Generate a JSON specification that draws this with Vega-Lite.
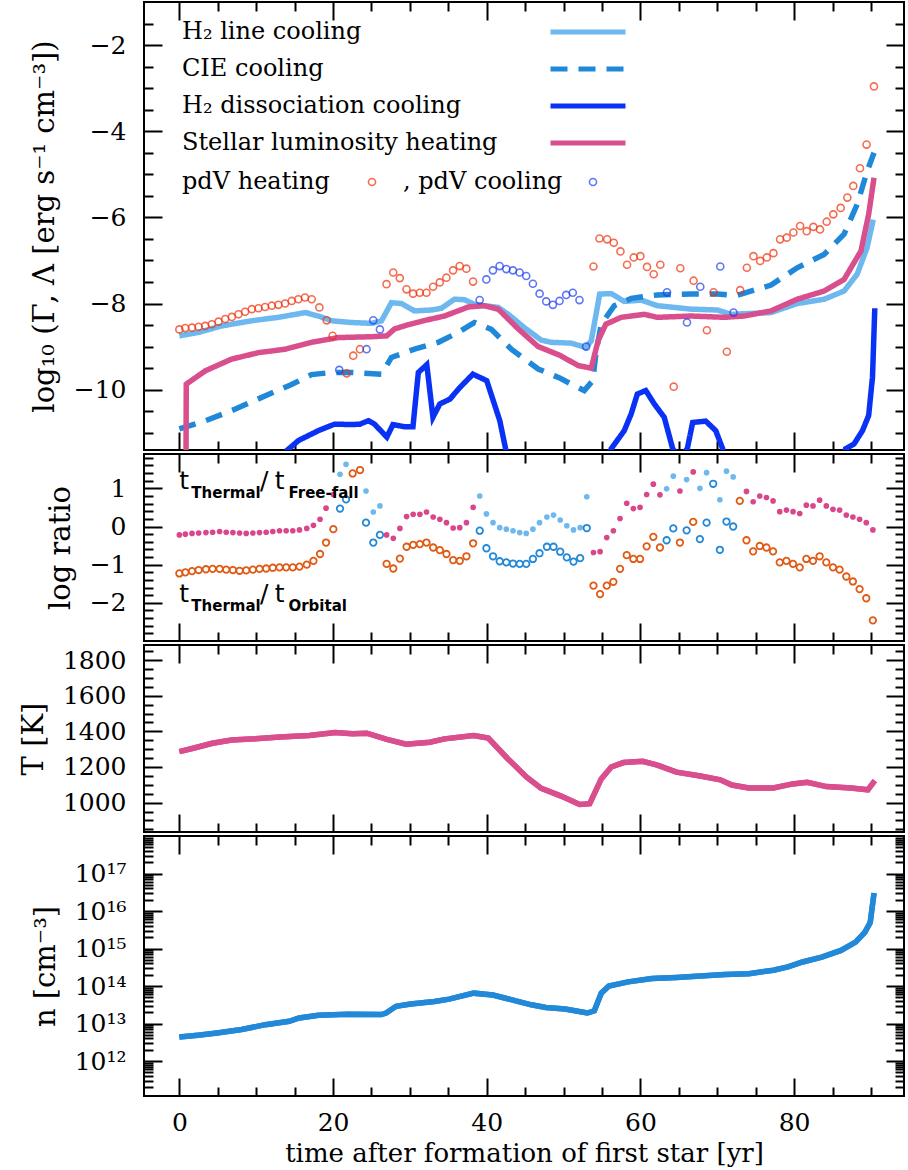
{
  "$schema": "https://vega.github.io/schema/vega-lite/v6.json",
  "padding": {"left": 18, "top": 0, "right": 2, "bottom": 0},
  "spacing": 0,
  "resolve": {"scale": {"color": "independent", "stroke": "independent", "strokeDash": "independent"}},
  "datasets": {
    "p1lines": [
      {"series":"H₂ line cooling","t":0,"v":-8.75},{"series":"H₂ line cooling","t":2.5,"v":-8.67},{"series":"H₂ line cooling","t":5.5,"v":-8.52},{"series":"H₂ line cooling","t":9.4,"v":-8.40},{"series":"H₂ line cooling","t":12.9,"v":-8.32},{"series":"H₂ line cooling","t":16.4,"v":-8.21},{"series":"H₂ line cooling","t":18.1,"v":-8.29},{"series":"H₂ line cooling","t":19.8,"v":-8.40},{"series":"H₂ line cooling","t":22.4,"v":-8.44},{"series":"H₂ line cooling","t":25.0,"v":-8.46},{"series":"H₂ line cooling","t":26.3,"v":-8.40},{"series":"H₂ line cooling","t":27.6,"v":-7.98},{"series":"H₂ line cooling","t":28.9,"v":-8.00},{"series":"H₂ line cooling","t":30.6,"v":-8.17},{"series":"H₂ line cooling","t":32.8,"v":-8.15},{"series":"H₂ line cooling","t":34.1,"v":-8.11},{"series":"H₂ line cooling","t":35.8,"v":-7.90},{"series":"H₂ line cooling","t":37.1,"v":-7.91},{"series":"H₂ line cooling","t":38.4,"v":-8.02},{"series":"H₂ line cooling","t":41.5,"v":-8.09},{"series":"H₂ line cooling","t":42.8,"v":-8.25},{"series":"H₂ line cooling","t":44.9,"v":-8.56},{"series":"H₂ line cooling","t":47.1,"v":-8.85},{"series":"H₂ line cooling","t":48.4,"v":-8.90},{"series":"H₂ line cooling","t":51.0,"v":-8.92},{"series":"H₂ line cooling","t":52.9,"v":-9.02},{"series":"H₂ line cooling","t":53.6,"v":-8.87},{"series":"H₂ line cooling","t":54.7,"v":-7.78},{"series":"H₂ line cooling","t":56.2,"v":-7.77},{"series":"H₂ line cooling","t":57.9,"v":-7.95},{"series":"H₂ line cooling","t":60.1,"v":-7.92},{"series":"H₂ line cooling","t":62.2,"v":-8.05},{"series":"H₂ line cooling","t":66.6,"v":-8.13},{"series":"H₂ line cooling","t":70.0,"v":-8.15},{"series":"H₂ line cooling","t":71.8,"v":-8.25},{"series":"H₂ line cooling","t":77.0,"v":-8.21},{"series":"H₂ line cooling","t":80.4,"v":-8.00},{"series":"H₂ line cooling","t":83.9,"v":-7.90},{"series":"H₂ line cooling","t":86.5,"v":-7.71},{"series":"H₂ line cooling","t":88.2,"v":-7.32},{"series":"H₂ line cooling","t":89.5,"v":-6.70},{"series":"H₂ line cooling","t":90.3,"v":-6.05},
      {"series":"CIE cooling","t":0,"v":-10.91},{"series":"CIE cooling","t":3.4,"v":-10.72},{"series":"CIE cooling","t":7.3,"v":-10.45},{"series":"CIE cooling","t":11.2,"v":-10.14},{"series":"CIE cooling","t":14.6,"v":-9.88},{"series":"CIE cooling","t":17.2,"v":-9.65},{"series":"CIE cooling","t":19.8,"v":-9.60},{"series":"CIE cooling","t":22.4,"v":-9.60},{"series":"CIE cooling","t":26.3,"v":-9.64},{"series":"CIE cooling","t":27.6,"v":-9.25},{"series":"CIE cooling","t":30.6,"v":-9.06},{"series":"CIE cooling","t":33.7,"v":-8.90},{"series":"CIE cooling","t":36.3,"v":-8.67},{"series":"CIE cooling","t":38.4,"v":-8.44},{"series":"CIE cooling","t":40.6,"v":-8.60},{"series":"CIE cooling","t":43.2,"v":-9.06},{"series":"CIE cooling","t":46.7,"v":-9.52},{"series":"CIE cooling","t":49.5,"v":-9.73},{"series":"CIE cooling","t":51.0,"v":-9.87},{"series":"CIE cooling","t":52.7,"v":-10.02},{"series":"CIE cooling","t":53.8,"v":-9.79},{"series":"CIE cooling","t":54.2,"v":-9.17},{"series":"CIE cooling","t":54.9,"v":-8.48},{"series":"CIE cooling","t":56.6,"v":-8.05},{"series":"CIE cooling","t":58.8,"v":-7.88},{"series":"CIE cooling","t":62.2,"v":-7.80},{"series":"CIE cooling","t":66.6,"v":-7.78},{"series":"CIE cooling","t":70.0,"v":-7.78},{"series":"CIE cooling","t":72.6,"v":-7.81},{"series":"CIE cooling","t":77.0,"v":-7.57},{"series":"CIE cooling","t":80.4,"v":-7.17},{"series":"CIE cooling","t":83.9,"v":-6.86},{"series":"CIE cooling","t":86.5,"v":-6.39},{"series":"CIE cooling","t":88.2,"v":-5.70},{"series":"CIE cooling","t":89.5,"v":-4.93},{"series":"CIE cooling","t":90.4,"v":-4.50},
      {"series":"H₂ dissociation cooling","t":13.0,"v":-12.0},{"series":"H₂ dissociation cooling","t":14.0,"v":-11.41},{"series":"H₂ dissociation cooling","t":15.5,"v":-11.18},{"series":"H₂ dissociation cooling","t":18.1,"v":-10.95},{"series":"H₂ dissociation cooling","t":20.2,"v":-10.80},{"series":"H₂ dissociation cooling","t":22.4,"v":-10.81},{"series":"H₂ dissociation cooling","t":23.5,"v":-10.80},{"series":"H₂ dissociation cooling","t":24.6,"v":-10.72},{"series":"H₂ dissociation cooling","t":25.4,"v":-10.80},{"series":"H₂ dissociation cooling","t":27.0,"v":-11.10},{"series":"H₂ dissociation cooling","t":27.8,"v":-10.81},{"series":"H₂ dissociation cooling","t":29.3,"v":-10.86},{"series":"H₂ dissociation cooling","t":30.4,"v":-10.86},{"series":"H₂ dissociation cooling","t":31.1,"v":-9.60},{"series":"H₂ dissociation cooling","t":32.2,"v":-9.42},{"series":"H₂ dissociation cooling","t":33.0,"v":-10.64},{"series":"H₂ dissociation cooling","t":33.9,"v":-10.33},{"series":"H₂ dissociation cooling","t":35.2,"v":-10.22},{"series":"H₂ dissociation cooling","t":36.5,"v":-9.95},{"series":"H₂ dissociation cooling","t":38.2,"v":-9.64},{"series":"H₂ dissociation cooling","t":40.0,"v":-9.79},{"series":"H₂ dissociation cooling","t":41.7,"v":-10.72},{"series":"H₂ dissociation cooling","t":42.5,"v":-11.41},{"series":"H₂ dissociation cooling","t":43.3,"v":-12.2},{"series":"H₂ dissociation cooling","t":55.3,"v":-12.2},{"series":"H₂ dissociation cooling","t":56.2,"v":-11.37},{"series":"H₂ dissociation cooling","t":57.9,"v":-10.95},{"series":"H₂ dissociation cooling","t":58.8,"v":-10.56},{"series":"H₂ dissociation cooling","t":59.6,"v":-10.10},{"series":"H₂ dissociation cooling","t":60.7,"v":-10.02},{"series":"H₂ dissociation cooling","t":61.8,"v":-10.33},{"series":"H₂ dissociation cooling","t":63.1,"v":-10.64},{"series":"H₂ dissociation cooling","t":64.2,"v":-11.37},{"series":"H₂ dissociation cooling","t":65.1,"v":-11.6},{"series":"H₂ dissociation cooling","t":66.1,"v":-11.37},{"series":"H₂ dissociation cooling","t":66.8,"v":-10.76},{"series":"H₂ dissociation cooling","t":68.5,"v":-10.73},{"series":"H₂ dissociation cooling","t":69.8,"v":-10.95},{"series":"H₂ dissociation cooling","t":70.7,"v":-11.37},{"series":"H₂ dissociation cooling","t":71.5,"v":-12.2},{"series":"H₂ dissociation cooling","t":85.8,"v":-12.2},{"series":"H₂ dissociation cooling","t":86.7,"v":-11.37},{"series":"H₂ dissociation cooling","t":87.8,"v":-11.26},{"series":"H₂ dissociation cooling","t":88.9,"v":-10.95},{"series":"H₂ dissociation cooling","t":89.7,"v":-10.60},{"series":"H₂ dissociation cooling","t":90.2,"v":-9.71},{"series":"H₂ dissociation cooling","t":90.5,"v":-8.11},
      {"series":"Stellar luminosity heating","t":0.85,"v":-12.5},{"series":"Stellar luminosity heating","t":0.9,"v":-9.87},{"series":"Stellar luminosity heating","t":3.4,"v":-9.56},{"series":"Stellar luminosity heating","t":6.8,"v":-9.29},{"series":"Stellar luminosity heating","t":10.3,"v":-9.14},{"series":"Stellar luminosity heating","t":13.8,"v":-9.06},{"series":"Stellar luminosity heating","t":17.2,"v":-8.90},{"series":"Stellar luminosity heating","t":20.7,"v":-8.79},{"series":"Stellar luminosity heating","t":25.0,"v":-8.77},{"series":"Stellar luminosity heating","t":27.0,"v":-8.75},{"series":"Stellar luminosity heating","t":28.0,"v":-8.59},{"series":"Stellar luminosity heating","t":29.8,"v":-8.49},{"series":"Stellar luminosity heating","t":32.0,"v":-8.39},{"series":"Stellar luminosity heating","t":34.5,"v":-8.29},{"series":"Stellar luminosity heating","t":37.6,"v":-8.08},{"series":"Stellar luminosity heating","t":39.7,"v":-8.05},{"series":"Stellar luminosity heating","t":41.5,"v":-8.13},{"series":"Stellar luminosity heating","t":44.1,"v":-8.59},{"series":"Stellar luminosity heating","t":46.7,"v":-9.00},{"series":"Stellar luminosity heating","t":49.5,"v":-9.20},{"series":"Stellar luminosity heating","t":51.9,"v":-9.44},{"series":"Stellar luminosity heating","t":53.6,"v":-9.50},{"series":"Stellar luminosity heating","t":54.5,"v":-8.86},{"series":"Stellar luminosity heating","t":55.5,"v":-8.48},{"series":"Stellar luminosity heating","t":57.5,"v":-8.32},{"series":"Stellar luminosity heating","t":60.5,"v":-8.25},{"series":"Stellar luminosity heating","t":62.2,"v":-8.32},{"series":"Stellar luminosity heating","t":66.6,"v":-8.29},{"series":"Stellar luminosity heating","t":70.9,"v":-8.32},{"series":"Stellar luminosity heating","t":73.5,"v":-8.29},{"series":"Stellar luminosity heating","t":77.0,"v":-8.17},{"series":"Stellar luminosity heating","t":80.4,"v":-7.90},{"series":"Stellar luminosity heating","t":83.9,"v":-7.71},{"series":"Stellar luminosity heating","t":86.5,"v":-7.44},{"series":"Stellar luminosity heating","t":88.7,"v":-6.78},{"series":"Stellar luminosity heating","t":89.7,"v":-5.93},{"series":"Stellar luminosity heating","t":90.4,"v":-5.08}
    ],
    "p1pdv": [
      {"series":"pdV heating","t":0.00,"v":-8.60},{"series":"pdV heating","t":0.77,"v":-8.57},{"series":"pdV heating","t":1.64,"v":-8.56},{"series":"pdV heating","t":2.50,"v":-8.54},{"series":"pdV heating","t":3.37,"v":-8.52},{"series":"pdV heating","t":4.23,"v":-8.48},{"series":"pdV heating","t":5.10,"v":-8.42},{"series":"pdV heating","t":5.97,"v":-8.36},{"series":"pdV heating","t":6.83,"v":-8.31},{"series":"pdV heating","t":7.70,"v":-8.25},{"series":"pdV heating","t":8.56,"v":-8.19},{"series":"pdV heating","t":9.43,"v":-8.13},{"series":"pdV heating","t":10.29,"v":-8.11},{"series":"pdV heating","t":11.16,"v":-8.08},{"series":"pdV heating","t":12.03,"v":-8.05},{"series":"pdV heating","t":12.89,"v":-8.03},{"series":"pdV heating","t":13.76,"v":-8.00},{"series":"pdV heating","t":14.62,"v":-7.94},{"series":"pdV heating","t":15.49,"v":-7.90},{"series":"pdV heating","t":16.35,"v":-7.86},{"series":"pdV heating","t":17.22,"v":-7.90},{"series":"pdV heating","t":18.22,"v":-8.09},{"series":"pdV heating","t":19.17,"v":-8.39},{"series":"pdV heating","t":19.95,"v":-8.75},{"series":"pdV cooling","t":20.81,"v":-9.54},{"series":"pdV heating","t":21.77,"v":-9.62},{"series":"pdV heating","t":22.63,"v":-9.21},{"series":"pdV heating","t":23.50,"v":-9.06},{"series":"pdV cooling","t":24.36,"v":-9.06},{"series":"pdV cooling","t":25.23,"v":-8.39},{"series":"pdV cooling","t":26.10,"v":-8.60},{"series":"pdV heating","t":26.96,"v":-7.55},{"series":"pdV heating","t":27.83,"v":-7.28},{"series":"pdV heating","t":28.69,"v":-7.41},{"series":"pdV heating","t":29.56,"v":-7.67},{"series":"pdV heating","t":30.42,"v":-7.77},{"series":"pdV heating","t":31.29,"v":-7.75},{"series":"pdV heating","t":32.16,"v":-7.75},{"series":"pdV heating","t":33.02,"v":-7.61},{"series":"pdV heating","t":33.89,"v":-7.51},{"series":"pdV heating","t":34.75,"v":-7.40},{"series":"pdV heating","t":35.62,"v":-7.23},{"series":"pdV heating","t":36.48,"v":-7.13},{"series":"pdV heating","t":37.35,"v":-7.19},{"series":"pdV heating","t":38.22,"v":-7.49},{"series":"pdV cooling","t":39.08,"v":-7.92},{"series":"pdV cooling","t":39.95,"v":-7.44},{"series":"pdV cooling","t":40.81,"v":-7.23},{"series":"pdV cooling","t":41.68,"v":-7.13},{"series":"pdV cooling","t":42.55,"v":-7.20},{"series":"pdV cooling","t":43.41,"v":-7.23},{"series":"pdV cooling","t":44.28,"v":-7.28},{"series":"pdV cooling","t":45.14,"v":-7.36},{"series":"pdV cooling","t":46.01,"v":-7.54},{"series":"pdV cooling","t":46.88,"v":-7.77},{"series":"pdV cooling","t":47.74,"v":-7.95},{"series":"pdV cooling","t":48.61,"v":-8.03},{"series":"pdV cooling","t":49.47,"v":-7.94},{"series":"pdV cooling","t":50.34,"v":-7.80},{"series":"pdV cooling","t":51.20,"v":-7.75},{"series":"pdV cooling","t":52.07,"v":-7.92},{"series":"pdV cooling","t":52.94,"v":-9.00},{"series":"pdV heating","t":53.89,"v":-7.14},{"series":"pdV heating","t":54.67,"v":-6.49},{"series":"pdV heating","t":55.67,"v":-6.51},{"series":"pdV heating","t":56.53,"v":-6.59},{"series":"pdV heating","t":57.40,"v":-6.79},{"series":"pdV heating","t":58.26,"v":-7.10},{"series":"pdV heating","t":59.13,"v":-6.93},{"series":"pdV heating","t":59.99,"v":-6.90},{"series":"pdV heating","t":60.86,"v":-7.15},{"series":"pdV heating","t":61.73,"v":-7.32},{"series":"pdV heating","t":62.59,"v":-7.10},{"series":"pdV cooling","t":63.46,"v":-7.74},{"series":"pdV heating","t":64.33,"v":-9.93},{"series":"pdV heating","t":65.19,"v":-7.18},{"series":"pdV cooling","t":66.06,"v":-8.44},{"series":"pdV heating","t":66.92,"v":-7.47},{"series":"pdV cooling","t":67.79,"v":-7.61},{"series":"pdV heating","t":68.65,"v":-8.62},{"series":"pdV heating","t":69.52,"v":-7.74},{"series":"pdV cooling","t":70.39,"v":-7.14},{"series":"pdV heating","t":71.25,"v":-9.12},{"series":"pdV cooling","t":72.12,"v":-8.21},{"series":"pdV heating","t":72.98,"v":-7.69},{"series":"pdV heating","t":73.85,"v":-7.17},{"series":"pdV heating","t":74.71,"v":-6.90},{"series":"pdV heating","t":75.58,"v":-7.01},{"series":"pdV heating","t":76.45,"v":-6.93},{"series":"pdV heating","t":77.31,"v":-6.83},{"series":"pdV heating","t":78.18,"v":-6.51},{"series":"pdV heating","t":79.04,"v":-6.47},{"series":"pdV heating","t":79.91,"v":-6.35},{"series":"pdV heating","t":80.78,"v":-6.20},{"series":"pdV heating","t":81.64,"v":-6.32},{"series":"pdV heating","t":82.51,"v":-6.22},{"series":"pdV heating","t":83.37,"v":-6.28},{"series":"pdV heating","t":84.24,"v":-6.10},{"series":"pdV heating","t":85.10,"v":-5.93},{"series":"pdV heating","t":86.06,"v":-5.78},{"series":"pdV heating","t":86.93,"v":-5.54},{"series":"pdV heating","t":87.70,"v":-5.27},{"series":"pdV heating","t":88.57,"v":-4.86},{"series":"pdV heating","t":89.43,"v":-4.31},{"series":"pdV heating","t":90.39,"v":-2.96}
    ],
    "p2pts": [
      {"r":"ff","g":"h","t":0.00,"v":-0.22},{"r":"ff","g":"h","t":0.78,"v":-0.20},{"r":"ff","g":"h","t":1.65,"v":-0.18},{"r":"ff","g":"h","t":2.51,"v":-0.17},{"r":"ff","g":"h","t":3.46,"v":-0.16},{"r":"ff","g":"h","t":4.33,"v":-0.15},{"r":"ff","g":"h","t":5.24,"v":-0.13},{"r":"ff","g":"h","t":6.10,"v":-0.15},{"r":"ff","g":"h","t":6.97,"v":-0.16},{"r":"ff","g":"h","t":7.84,"v":-0.17},{"r":"ff","g":"h","t":8.70,"v":-0.18},{"r":"ff","g":"h","t":9.57,"v":-0.17},{"r":"ff","g":"h","t":10.43,"v":-0.16},{"r":"ff","g":"h","t":11.30,"v":-0.15},{"r":"ff","g":"h","t":12.16,"v":-0.13},{"r":"ff","g":"h","t":13.03,"v":-0.11},{"r":"ff","g":"h","t":13.90,"v":-0.11},{"r":"ff","g":"h","t":14.76,"v":-0.11},{"r":"ff","g":"h","t":15.63,"v":-0.09},{"r":"ff","g":"h","t":16.58,"v":-0.05},{"r":"ff","g":"h","t":17.45,"v":0.03},{"r":"ff","g":"h","t":18.31,"v":0.19},{"r":"ff","g":"h","t":19.09,"v":0.48},{"r":"ff","g":"h","t":20.04,"v":0.84},{"r":"ff","g":"c","t":20.91,"v":1.37},{"r":"ff","g":"c","t":21.69,"v":1.63},{"r":"ff","g":"c","t":24.29,"v":0.93},{"r":"ff","g":"c","t":25.24,"v":0.38},{"r":"ff","g":"c","t":26.10,"v":0.54},{"r":"ff","g":"h","t":26.97,"v":-0.22},{"r":"ff","g":"h","t":27.84,"v":-0.31},{"r":"ff","g":"h","t":28.70,"v":-0.05},{"r":"ff","g":"h","t":29.57,"v":0.26},{"r":"ff","g":"h","t":30.43,"v":0.32},{"r":"ff","g":"h","t":31.30,"v":0.32},{"r":"ff","g":"h","t":32.16,"v":0.38},{"r":"ff","g":"h","t":33.03,"v":0.25},{"r":"ff","g":"h","t":33.90,"v":0.19},{"r":"ff","g":"h","t":34.76,"v":0.10},{"r":"ff","g":"h","t":35.63,"v":-0.04},{"r":"ff","g":"h","t":36.49,"v":-0.03},{"r":"ff","g":"h","t":37.36,"v":0.10},{"r":"ff","g":"h","t":38.23,"v":0.50},{"r":"ff","g":"c","t":39.09,"v":0.80},{"r":"ff","g":"c","t":39.96,"v":0.33},{"r":"ff","g":"c","t":40.82,"v":0.10},{"r":"ff","g":"c","t":41.69,"v":-0.03},{"r":"ff","g":"c","t":42.55,"v":-0.07},{"r":"ff","g":"c","t":43.42,"v":-0.11},{"r":"ff","g":"c","t":44.29,"v":-0.16},{"r":"ff","g":"c","t":45.14,"v":-0.18},{"r":"ff","g":"c","t":46.01,"v":-0.07},{"r":"ff","g":"c","t":46.87,"v":0.10},{"r":"ff","g":"c","t":47.83,"v":0.25},{"r":"ff","g":"c","t":48.69,"v":0.30},{"r":"ff","g":"c","t":49.56,"v":0.17},{"r":"ff","g":"c","t":50.42,"v":0.02},{"r":"ff","g":"c","t":51.29,"v":-0.09},{"r":"ff","g":"c","t":52.16,"v":-0.03},{"r":"ff","g":"c","t":53.02,"v":0.78},{"r":"ff","g":"h","t":53.89,"v":-0.68},{"r":"ff","g":"h","t":54.75,"v":-0.66},{"r":"ff","g":"h","t":55.62,"v":-0.29},{"r":"ff","g":"h","t":56.48,"v":-0.11},{"r":"ff","g":"h","t":57.35,"v":0.21},{"r":"ff","g":"h","t":58.22,"v":0.61},{"r":"ff","g":"h","t":59.08,"v":0.47},{"r":"ff","g":"h","t":59.95,"v":0.50},{"r":"ff","g":"h","t":60.81,"v":0.84},{"r":"ff","g":"h","t":61.68,"v":1.11},{"r":"ff","g":"h","t":62.54,"v":0.83},{"r":"ff","g":"c","t":63.41,"v":0.99},{"r":"ff","g":"c","t":64.28,"v":1.32},{"r":"ff","g":"h","t":65.14,"v":0.93},{"r":"ff","g":"c","t":66.01,"v":1.23},{"r":"ff","g":"h","t":66.87,"v":1.43},{"r":"ff","g":"c","t":67.74,"v":1.00},{"r":"ff","g":"c","t":68.61,"v":1.41},{"r":"ff","g":"c","t":70.34,"v":0.70},{"r":"ff","g":"c","t":71.20,"v":1.45},{"r":"ff","g":"c","t":72.07,"v":1.30},{"r":"ff","g":"h","t":73.80,"v":0.92},{"r":"ff","g":"h","t":74.67,"v":0.65},{"r":"ff","g":"h","t":75.53,"v":0.80},{"r":"ff","g":"h","t":76.40,"v":0.76},{"r":"ff","g":"h","t":77.26,"v":0.67},{"r":"ff","g":"h","t":78.13,"v":0.39},{"r":"ff","g":"h","t":79.00,"v":0.43},{"r":"ff","g":"h","t":79.86,"v":0.39},{"r":"ff","g":"h","t":80.73,"v":0.34},{"r":"ff","g":"h","t":81.59,"v":0.56},{"r":"ff","g":"h","t":82.46,"v":0.54},{"r":"ff","g":"h","t":83.32,"v":0.69},{"r":"ff","g":"h","t":84.19,"v":0.54},{"r":"ff","g":"h","t":85.06,"v":0.45},{"r":"ff","g":"h","t":85.92,"v":0.43},{"r":"ff","g":"h","t":86.79,"v":0.30},{"r":"ff","g":"h","t":87.65,"v":0.25},{"r":"ff","g":"h","t":88.52,"v":0.19},{"r":"ff","g":"h","t":89.39,"v":0.10},{"r":"ff","g":"h","t":90.25,"v":-0.09},
      {"r":"orb","g":"h","t":0.00,"v":-1.23},{"r":"orb","g":"h","t":0.78,"v":-1.20},{"r":"orb","g":"h","t":1.65,"v":-1.17},{"r":"orb","g":"h","t":2.51,"v":-1.14},{"r":"orb","g":"h","t":3.46,"v":-1.12},{"r":"orb","g":"h","t":4.33,"v":-1.11},{"r":"orb","g":"h","t":5.24,"v":-1.11},{"r":"orb","g":"h","t":6.10,"v":-1.13},{"r":"orb","g":"h","t":6.97,"v":-1.14},{"r":"orb","g":"h","t":7.84,"v":-1.16},{"r":"orb","g":"h","t":8.70,"v":-1.15},{"r":"orb","g":"h","t":9.57,"v":-1.13},{"r":"orb","g":"h","t":10.43,"v":-1.11},{"r":"orb","g":"h","t":11.30,"v":-1.10},{"r":"orb","g":"h","t":12.16,"v":-1.08},{"r":"orb","g":"h","t":13.03,"v":-1.07},{"r":"orb","g":"h","t":13.90,"v":-1.07},{"r":"orb","g":"h","t":14.76,"v":-1.07},{"r":"orb","g":"h","t":15.63,"v":-1.05},{"r":"orb","g":"h","t":16.58,"v":-1.00},{"r":"orb","g":"h","t":17.45,"v":-0.90},{"r":"orb","g":"h","t":18.31,"v":-0.72},{"r":"orb","g":"h","t":19.09,"v":-0.42},{"r":"orb","g":"h","t":20.04,"v":-0.07},{"r":"orb","g":"c","t":20.91,"v":0.47},{"r":"orb","g":"c","t":21.69,"v":0.71},{"r":"orb","g":"h","t":22.55,"v":1.39},{"r":"orb","g":"h","t":23.51,"v":1.48},{"r":"orb","g":"c","t":24.29,"v":0.10},{"r":"orb","g":"c","t":25.24,"v":-0.42},{"r":"orb","g":"c","t":26.10,"v":-0.22},{"r":"orb","g":"h","t":26.97,"v":-0.98},{"r":"orb","g":"h","t":27.84,"v":-1.10},{"r":"orb","g":"h","t":28.70,"v":-0.84},{"r":"orb","g":"h","t":29.57,"v":-0.53},{"r":"orb","g":"h","t":30.43,"v":-0.48},{"r":"orb","g":"h","t":31.30,"v":-0.46},{"r":"orb","g":"h","t":32.16,"v":-0.42},{"r":"orb","g":"h","t":33.03,"v":-0.55},{"r":"orb","g":"h","t":33.90,"v":-0.62},{"r":"orb","g":"h","t":34.76,"v":-0.72},{"r":"orb","g":"h","t":35.63,"v":-0.88},{"r":"orb","g":"h","t":36.49,"v":-0.90},{"r":"orb","g":"h","t":37.36,"v":-0.78},{"r":"orb","g":"h","t":38.23,"v":-0.44},{"r":"orb","g":"c","t":39.09,"v":-0.11},{"r":"orb","g":"c","t":39.96,"v":-0.57},{"r":"orb","g":"c","t":40.82,"v":-0.78},{"r":"orb","g":"c","t":41.69,"v":-0.91},{"r":"orb","g":"c","t":42.55,"v":-0.94},{"r":"orb","g":"c","t":43.42,"v":-0.97},{"r":"orb","g":"c","t":44.29,"v":-0.98},{"r":"orb","g":"c","t":45.14,"v":-0.98},{"r":"orb","g":"c","t":46.01,"v":-0.85},{"r":"orb","g":"c","t":46.87,"v":-0.70},{"r":"orb","g":"c","t":47.83,"v":-0.53},{"r":"orb","g":"c","t":48.69,"v":-0.53},{"r":"orb","g":"c","t":49.56,"v":-0.66},{"r":"orb","g":"c","t":50.42,"v":-0.81},{"r":"orb","g":"c","t":51.29,"v":-0.92},{"r":"orb","g":"c","t":52.16,"v":-0.83},{"r":"orb","g":"c","t":53.02,"v":-0.04},{"r":"orb","g":"h","t":53.89,"v":-1.55},{"r":"orb","g":"h","t":54.75,"v":-1.77},{"r":"orb","g":"h","t":55.62,"v":-1.55},{"r":"orb","g":"h","t":56.48,"v":-1.45},{"r":"orb","g":"h","t":57.35,"v":-1.11},{"r":"orb","g":"h","t":58.22,"v":-0.75},{"r":"orb","g":"h","t":59.08,"v":-0.85},{"r":"orb","g":"h","t":59.95,"v":-0.85},{"r":"orb","g":"h","t":60.81,"v":-0.52},{"r":"orb","g":"h","t":61.68,"v":-0.27},{"r":"orb","g":"h","t":62.54,"v":-0.55},{"r":"orb","g":"c","t":63.41,"v":-0.36},{"r":"orb","g":"c","t":64.28,"v":-0.05},{"r":"orb","g":"h","t":65.14,"v":-0.42},{"r":"orb","g":"c","t":66.01,"v":-0.10},{"r":"orb","g":"h","t":66.87,"v":0.12},{"r":"orb","g":"c","t":67.74,"v":-0.33},{"r":"orb","g":"c","t":68.61,"v":0.10},{"r":"orb","g":"c","t":69.47,"v":1.12},{"r":"orb","g":"c","t":70.34,"v":-0.61},{"r":"orb","g":"c","t":71.20,"v":0.13},{"r":"orb","g":"c","t":72.07,"v":0.00},{"r":"orb","g":"h","t":72.93,"v":0.67},{"r":"orb","g":"h","t":73.80,"v":-0.36},{"r":"orb","g":"h","t":74.67,"v":-0.65},{"r":"orb","g":"h","t":75.53,"v":-0.51},{"r":"orb","g":"h","t":76.40,"v":-0.55},{"r":"orb","g":"h","t":77.26,"v":-0.65},{"r":"orb","g":"h","t":78.13,"v":-0.94},{"r":"orb","g":"h","t":79.00,"v":-0.90},{"r":"orb","g":"h","t":79.86,"v":-0.98},{"r":"orb","g":"h","t":80.73,"v":-1.07},{"r":"orb","g":"h","t":81.59,"v":-0.85},{"r":"orb","g":"h","t":82.46,"v":-0.90},{"r":"orb","g":"h","t":83.32,"v":-0.78},{"r":"orb","g":"h","t":84.19,"v":-0.94},{"r":"orb","g":"h","t":85.06,"v":-1.07},{"r":"orb","g":"h","t":85.92,"v":-1.13},{"r":"orb","g":"h","t":86.79,"v":-1.31},{"r":"orb","g":"h","t":87.65,"v":-1.44},{"r":"orb","g":"h","t":88.52,"v":-1.64},{"r":"orb","g":"h","t":89.39,"v":-1.88},{"r":"orb","g":"h","t":90.25,"v":-2.46}
    ],
    "p2ann": [
      {"k":"b","t":0,"v":0.99,"s":"t"},{"k":"s","t":1.56,"v":0.99,"s":"Thermal"},{"k":"b","t":10.5,"v":0.99,"s":"/"},{"k":"b","t":12.4,"v":0.99,"s":"t"},{"k":"s","t":14.2,"v":0.99,"s":"Free-fall"},
      {"k":"b","t":0,"v":-1.98,"s":"t"},{"k":"s","t":1.56,"v":-1.98,"s":"Thermal"},{"k":"b","t":10.5,"v":-1.98,"s":"/"},{"k":"b","t":12.4,"v":-1.98,"s":"t"},{"k":"s","t":14.2,"v":-1.98,"s":"Orbital"}
    ],
    "p3": [
      {"t":0,"T":1286},{"t":1.8,"T":1305},{"t":4.3,"T":1333},{"t":6.8,"T":1352},{"t":9.9,"T":1358},{"t":13.1,"T":1368},{"t":16.9,"T":1377},{"t":20.3,"T":1394},{"t":22.5,"T":1387},{"t":24.4,"T":1390},{"t":26.9,"T":1356},{"t":29.5,"T":1328},{"t":32.6,"T":1339},{"t":34.5,"T":1358},{"t":38.3,"T":1377},{"t":40.2,"T":1362},{"t":42.7,"T":1248},{"t":45.2,"T":1143},{"t":47.1,"T":1080},{"t":49.6,"T":1038},{"t":52.1,"T":990},{"t":53.4,"T":994},{"t":54.9,"T":1133},{"t":56.2,"T":1200},{"t":57.8,"T":1225},{"t":60.3,"T":1232},{"t":62.2,"T":1210},{"t":64.7,"T":1171},{"t":67.8,"T":1149},{"t":70.4,"T":1128},{"t":71.9,"T":1099},{"t":74.1,"T":1082},{"t":77.3,"T":1082},{"t":79.8,"T":1105},{"t":81.7,"T":1114},{"t":84.2,"T":1090},{"t":87.4,"T":1082},{"t":89.6,"T":1072},{"t":90.5,"T":1124}
    ],
    "p4": [
      {"t":0,"n":4.37e12},{"t":2.4,"n":4.90e12},{"t":4.9,"n":5.62e12},{"t":8.1,"n":6.92e12},{"t":11.2,"n":9.33e12},{"t":14.3,"n":1.15e13},{"t":15.6,"n":1.41e13},{"t":18.1,"n":1.66e13},{"t":21.9,"n":1.78e13},{"t":26.3,"n":1.74e13},{"t":26.9,"n":1.91e13},{"t":28.2,"n":2.88e13},{"t":30.1,"n":3.31e13},{"t":33.2,"n":3.89e13},{"t":35.1,"n":4.47e13},{"t":38.3,"n":6.46e13},{"t":40.8,"n":5.75e13},{"t":43.3,"n":4.27e13},{"t":45.8,"n":3.16e13},{"t":47.7,"n":2.69e13},{"t":50.2,"n":2.45e13},{"t":53.1,"n":1.91e13},{"t":54.0,"n":2.19e13},{"t":54.9,"n":6.46e13},{"t":55.9,"n":1.00e14},{"t":58.4,"n":1.29e14},{"t":61.5,"n":1.58e14},{"t":64.7,"n":1.70e14},{"t":67.8,"n":1.86e14},{"t":71.0,"n":2.04e14},{"t":74.1,"n":2.14e14},{"t":77.3,"n":2.63e14},{"t":79.2,"n":3.24e14},{"t":81.1,"n":4.37e14},{"t":83.6,"n":5.89e14},{"t":86.1,"n":8.91e14},{"t":88.0,"n":1.48e15},{"t":89.2,"n":2.69e15},{"t":89.9,"n":4.90e15},{"t":90.4,"n":3.02e16}
    ]
  },
  "vconcat": [
    {
      "width": 760, "height": 448,
      "resolve": {"axis": {"x": "independent", "y": "independent"}},
      "layer": [
        {
          "data": {"name": "p1lines"},
          "mark": {"type": "line", "strokeWidth": 5.5, "clip": true},
          "encoding": {
            "x": {"field": "t", "type": "quantitative", "scale": {"domain": [-4.6, 94.3], "nice": false, "zero": false},
                  "axis": {"orient": "bottom", "values": [0,5,10,15,20,25,30,35,40,45,50,55,60,65,70,75,80,85,90], "labels": false, "title": null, "tickSize": {"condition": {"test": "datum.value % 20 === 0", "value": -18}, "value": -9}}},
            "y": {"field": "v", "type": "quantitative", "scale": {"domain": [-11.4, -1.0], "nice": false, "zero": false},
                  "axis": {"orient": "left", "values": [-11,-10.5,-10,-9.5,-9,-8.5,-8,-7.5,-7,-6.5,-6,-5.5,-5,-4.5,-4,-3.5,-3,-2.5,-2,-1.5], "format": ".0f", "labelExpr": "datum.value % 2 === 0 ? datum.label : ''", "labelFontSize": {"condition": {"test": "datum.value % 2 === 0", "value": 25}, "value": 1}, "tickSize": {"condition": {"test": "datum.value % 2 === 0", "value": -18}, "value": -9}, "title": "log₁₀ (Γ, Λ [erg s⁻¹ cm⁻³])", "titlePadding": 14}},
            "color": {"field": "series", "type": "nominal",
                      "scale": {"domain": ["H₂ line cooling", "CIE cooling", "H₂ dissociation cooling", "Stellar luminosity heating"], "range": ["#6cb8ef", "#1f88d8", "#0a32f5", "#d94e8c"]},
                      "legend": {"orient": "none", "legendX": 38, "legendY": 18, "direction": "vertical", "title": null, "symbolType": "stroke", "symbolSize": 5625, "symbolStrokeWidth": 5, "labelOffset": -446, "symbolOffset": 366, "labelFont": "DejaVu Serif", "labelFontSize": 24, "labelColor": "black", "rowPadding": 13, "labelLimit": 600,
                                 "encode": {"symbols": {"update": {"y": {"value": 12}}}, "labels": {"update": {"y": {"value": 12}}}}}},
            "strokeDash": {"field": "series", "type": "nominal",
                      "scale": {"domain": ["H₂ line cooling", "CIE cooling", "H₂ dissociation cooling", "Stellar luminosity heating"], "range": [[1, 0], [17, 11], [1, 0], [1, 0]]}}
          }
        },
        {
          "data": {"name": "p1pdv"},
          "mark": {"type": "point", "shape": "circle", "filled": false, "size": 50, "strokeWidth": 1.6, "clip": true},
          "encoding": {
            "x": {"field": "t", "type": "quantitative", "scale": {"domain": [-4.6, 94.3], "nice": false, "zero": false},
                  "axis": {"orient": "top", "values": [0,5,10,15,20,25,30,35,40,45,50,55,60,65,70,75,80,85,90], "labels": false, "title": null, "tickSize": {"condition": {"test": "datum.value % 20 === 0", "value": -18}, "value": -9}}},
            "y": {"field": "v", "type": "quantitative", "scale": {"domain": [-11.4, -1.0], "nice": false, "zero": false},
                  "axis": {"orient": "right", "values": [-11,-10.5,-10,-9.5,-9,-8.5,-8,-7.5,-7,-6.5,-6,-5.5,-5,-4.5,-4,-3.5,-3,-2.5,-2,-1.5], "labels": false, "title": null, "tickSize": {"condition": {"test": "datum.value % 2 === 0", "value": -18}, "value": -9}}},
            "stroke": {"field": "series", "type": "nominal",
                       "scale": {"domain": ["pdV heating", "pdV cooling"], "range": ["#f0300a", "#1c3ef0"]},
                       "legend": {"orient": "none", "legendX": 38, "legendY": 168, "direction": "horizontal", "title": null, "symbolType": "circle", "symbolSize": 50, "symbolStrokeWidth": 1.6, "symbolFillColor": "transparent", "labelOffset": -202, "symbolOffset": 178, "columnPadding": 24, "labelFont": "DejaVu Serif", "labelFontSize": 24, "labelColor": "black", "labelLimit": 600, "labelExpr": "datum.label === 'pdV cooling' ? ', pdV cooling' : datum.label"}}
          }
        }
      ]
    },
    {
      "width": 760, "height": 187,
      "resolve": {"axis": {"x": "independent", "y": "independent"}},
      "layer": [
        {
          "data": {"name": "p2pts"},
          "transform": [{"filter": "datum.r === 'ff'"}],
          "mark": {"type": "point", "shape": "circle", "filled": true, "size": 32, "opacity": 1, "clip": true},
          "encoding": {
            "x": {"field": "t", "type": "quantitative", "scale": {"domain": [-4.6, 94.3], "nice": false, "zero": false},
                  "axis": {"orient": "bottom", "values": [0,5,10,15,20,25,30,35,40,45,50,55,60,65,70,75,80,85,90], "labels": false, "title": null, "tickSize": {"condition": {"test": "datum.value % 20 === 0", "value": -18}, "value": -9}}},
            "y": {"field": "v", "type": "quantitative", "scale": {"domain": [-3.0, 1.9], "nice": false, "zero": false},
                  "axis": {"orient": "left", "values": [-2.8,-2.6,-2.4,-2.2,-2,-1.8,-1.6,-1.4,-1.2,-1,-0.8,-0.6,-0.4,-0.2,0,0.2,0.4,0.6,0.8,1,1.2,1.4,1.6,1.8], "format": ".0f", "labelExpr": "abs(datum.value - round(datum.value)) < 0.01 ? datum.label : ''", "labelFontSize": {"condition": {"test": "abs(datum.value - round(datum.value)) < 0.01", "value": 25}, "value": 1}, "tickSize": {"condition": {"test": "abs(datum.value - round(datum.value)) < 0.01", "value": -18}, "value": -9}, "title": "log ratio", "titlePadding": 14}},
            "color": {"field": "g", "type": "nominal", "scale": {"domain": ["h", "c"], "range": ["#d9468a", "#6cb8ef"]}, "legend": null}
          }
        },
        {
          "data": {"name": "p2pts"},
          "transform": [{"filter": "datum.r === 'orb'"}],
          "mark": {"type": "point", "shape": "circle", "filled": false, "size": 42, "strokeWidth": 1.8, "opacity": 1, "clip": true},
          "encoding": {
            "x": {"field": "t", "type": "quantitative", "scale": {"domain": [-4.6, 94.3], "nice": false, "zero": false},
                  "axis": {"orient": "top", "values": [0,5,10,15,20,25,30,35,40,45,50,55,60,65,70,75,80,85,90], "labels": false, "title": null, "tickSize": {"condition": {"test": "datum.value % 20 === 0", "value": -18}, "value": -9}}},
            "y": {"field": "v", "type": "quantitative", "scale": {"domain": [-3.0, 1.9], "nice": false, "zero": false},
                  "axis": {"orient": "right", "values": [-2.8,-2.6,-2.4,-2.2,-2,-1.8,-1.6,-1.4,-1.2,-1,-0.8,-0.6,-0.4,-0.2,0,0.2,0.4,0.6,0.8,1,1.2,1.4,1.6,1.8], "labels": false, "title": null, "tickSize": {"condition": {"test": "abs(datum.value - round(datum.value)) < 0.01", "value": -18}, "value": -9}}},
            "stroke": {"field": "g", "type": "nominal", "scale": {"domain": ["h", "c"], "range": ["#e05a14", "#2288d8"]}, "legend": null}
          }
        },
        {
          "data": {"name": "p2ann"},
          "transform": [{"filter": "datum.k === 'b'"}],
          "mark": {"type": "text", "align": "left", "baseline": "alphabetic", "font": "DejaVu Sans", "fontSize": 25, "color": "black"},
          "encoding": {
            "x": {"field": "t", "type": "quantitative", "scale": {"domain": [-4.6, 94.3], "nice": false, "zero": false}, "axis": null},
            "y": {"field": "v", "type": "quantitative", "scale": {"domain": [-3.0, 1.9], "nice": false, "zero": false}, "axis": null},
            "text": {"field": "s"}
          }
        },
        {
          "data": {"name": "p2ann"},
          "transform": [{"filter": "datum.k === 's'"}],
          "mark": {"type": "text", "align": "left", "baseline": "alphabetic", "font": "DejaVu Sans", "fontWeight": "bold", "fontSize": 15, "dy": 9, "color": "black"},
          "encoding": {
            "x": {"field": "t", "type": "quantitative", "scale": {"domain": [-4.6, 94.3], "nice": false, "zero": false}, "axis": null},
            "y": {"field": "v", "type": "quantitative", "scale": {"domain": [-3.0, 1.9], "nice": false, "zero": false}, "axis": null},
            "text": {"field": "s"}
          }
        }
      ]
    },
    {
      "width": 760, "height": 187,
      "data": {"name": "p3"},
      "resolve": {"axis": {"x": "independent", "y": "independent"}},
      "layer": [
        {
          "mark": {"type": "line", "strokeWidth": 5.5, "color": "#d94e8c", "clip": true},
          "encoding": {
            "x": {"field": "t", "type": "quantitative", "scale": {"domain": [-4.6, 94.3], "nice": false, "zero": false},
                  "axis": {"orient": "bottom", "values": [0,5,10,15,20,25,30,35,40,45,50,55,60,65,70,75,80,85,90], "labels": false, "title": null, "tickSize": {"condition": {"test": "datum.value % 20 === 0", "value": -18}, "value": -9}}},
            "y": {"field": "T", "type": "quantitative", "scale": {"domain": [835, 1885], "nice": false, "zero": false},
                  "axis": {"orient": "left", "values": [850,900,950,1000,1050,1100,1150,1200,1250,1300,1350,1400,1450,1500,1550,1600,1650,1700,1750,1800,1850], "format": "d", "labelExpr": "datum.value % 200 === 0 ? datum.label : ''", "labelFontSize": {"condition": {"test": "datum.value % 200 === 0", "value": 25}, "value": 1}, "tickSize": {"condition": {"test": "datum.value % 200 === 0", "value": -18}, "value": -9}, "title": "T [K]", "titlePadding": 14}}
          }
        },
        {
          "mark": {"type": "line", "strokeWidth": 5.5, "color": "#d94e8c", "clip": true},
          "encoding": {
            "x": {"field": "t", "type": "quantitative", "scale": {"domain": [-4.6, 94.3], "nice": false, "zero": false},
                  "axis": {"orient": "top", "values": [0,5,10,15,20,25,30,35,40,45,50,55,60,65,70,75,80,85,90], "labels": false, "title": null, "tickSize": {"condition": {"test": "datum.value % 20 === 0", "value": -18}, "value": -9}}},
            "y": {"field": "T", "type": "quantitative", "scale": {"domain": [835, 1885], "nice": false, "zero": false},
                  "axis": {"orient": "right", "values": [850,900,950,1000,1050,1100,1150,1200,1250,1300,1350,1400,1450,1500,1550,1600,1650,1700,1750,1800,1850], "labels": false, "title": null, "tickSize": {"condition": {"test": "datum.value % 200 === 0", "value": -18}, "value": -9}}}
          }
        }
      ]
    },
    {
      "width": 760, "height": 260,
      "data": {"name": "p4"},
      "resolve": {"axis": {"x": "independent", "y": "independent"}},
      "layer": [
        {
          "mark": {"type": "line", "strokeWidth": 5.5, "color": "#2288d8", "clip": true},
          "encoding": {
            "x": {"field": "t", "type": "quantitative", "scale": {"domain": [-4.6, 94.3], "nice": false, "zero": false},
                  "axis": {"orient": "bottom", "values": [0,5,10,15,20,25,30,35,40,45,50,55,60,65,70,75,80,85,90], "labelExpr": "datum.value % 20 === 0 ? datum.label : ''", "labelFontSize": {"condition": {"test": "datum.value % 20 === 0", "value": 25}, "value": 1}, "labelPadding": 32, "tickSize": {"condition": {"test": "datum.value % 20 === 0", "value": -18}, "value": -9}, "title": "time after formation of first star [yr]", "titleFontSize": 26, "titlePadding": 5}},
            "y": {"field": "n", "type": "quantitative", "scale": {"type": "log", "domain": [1.17e11, 1e18], "nice": false},
                  "axis": {"orient": "left", "values": [2e11,3e11,4e11,5e11,6e11,7e11,8e11,9e11,1e12,2e12,3e12,4e12,5e12,6e12,7e12,8e12,9e12,1e13,2e13,3e13,4e13,5e13,6e13,7e13,8e13,9e13,1e14,2e14,3e14,4e14,5e14,6e14,7e14,8e14,9e14,1e15,2e15,3e15,4e15,5e15,6e15,7e15,8e15,9e15,1e16,2e16,3e16,4e16,5e16,6e16,7e16,8e16,9e16,1e17,2e17,3e17,4e17,5e17,6e17,7e17,8e17,9e17],
                           "labelExpr": "abs(log(datum.value)/LN10 - round(log(datum.value)/LN10)) < 0.001 ? '10' + ['¹¹','¹²','¹³','¹⁴','¹⁵','¹⁶','¹⁷','¹⁸'][round(log(datum.value)/LN10) - 11] : ''",
                           "labelFontSize": {"condition": {"test": "abs(log(datum.value)/LN10 - round(log(datum.value)/LN10)) < 0.001", "value": 25}, "value": 1},
                           "tickSize": {"condition": {"test": "abs(log(datum.value)/LN10 - round(log(datum.value)/LN10)) < 0.001", "value": -18}, "value": -9}, "title": "n [cm⁻³]", "titlePadding": 14}}
          }
        },
        {
          "mark": {"type": "line", "strokeWidth": 5.5, "color": "#2288d8", "clip": true},
          "encoding": {
            "x": {"field": "t", "type": "quantitative", "scale": {"domain": [-4.6, 94.3], "nice": false, "zero": false},
                  "axis": {"orient": "top", "values": [0,5,10,15,20,25,30,35,40,45,50,55,60,65,70,75,80,85,90], "labels": false, "title": null, "tickSize": {"condition": {"test": "datum.value % 20 === 0", "value": -18}, "value": -9}}},
            "y": {"field": "n", "type": "quantitative", "scale": {"type": "log", "domain": [1.17e11, 1e18], "nice": false},
                  "axis": {"orient": "right", "values": [2e11,3e11,4e11,5e11,6e11,7e11,8e11,9e11,1e12,2e12,3e12,4e12,5e12,6e12,7e12,8e12,9e12,1e13,2e13,3e13,4e13,5e13,6e13,7e13,8e13,9e13,1e14,2e14,3e14,4e14,5e14,6e14,7e14,8e14,9e14,1e15,2e15,3e15,4e15,5e15,6e15,7e15,8e15,9e15,1e16,2e16,3e16,4e16,5e16,6e16,7e16,8e16,9e16,1e17,2e17,3e17,4e17,5e17,6e17,7e17,8e17,9e17], "labels": false, "title": null,
                           "tickSize": {"condition": {"test": "abs(log(datum.value)/LN10 - round(log(datum.value)/LN10)) < 0.001", "value": -18}, "value": -9}}}
          }
        }
      ]
    }
  ],
  "config": {
    "view": {"stroke": "black", "strokeWidth": 2},
    "axis": {"domain": false, "grid": false, "ticks": true, "tickColor": "black", "tickWidth": 2, "labelColor": "black", "titleColor": "black", "labelFont": "DejaVu Serif", "titleFont": "DejaVu Serif", "labelFontSize": 25, "titleFontSize": 29, "titleFontWeight": "normal", "labelOverlap": false, "labelFlush": false, "labelPadding": 36}
  }
}
